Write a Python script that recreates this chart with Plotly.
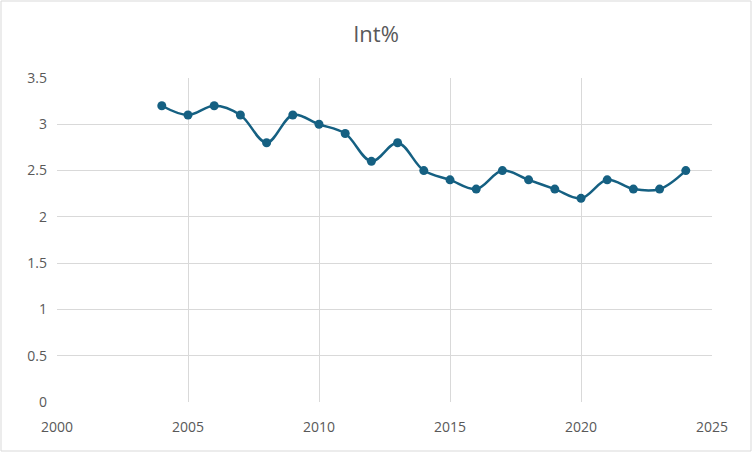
import plotly.graph_objects as go

years = [2004, 2005, 2006, 2007, 2008, 2009, 2010, 2011, 2012, 2013, 2014,
         2015, 2016, 2017, 2018, 2019, 2020, 2021, 2022, 2023, 2024]
int_pct = [3.2, 3.1, 3.2, 3.1, 2.8, 3.1, 3.0, 2.9, 2.6, 2.8, 2.5,
           2.4, 2.3, 2.5, 2.4, 2.3, 2.2, 2.4, 2.3, 2.3, 2.5]

line_col = '#156082'
grid_col = '#d9d9d9'
txt_col = '#595959'

fig = go.Figure()
fig.add_trace(go.Scatter(x=years, y=int_pct, mode='lines+markers',
                         line=dict(color=line_col, width=2.5, shape='spline', smoothing=1.0),
                         marker=dict(color=line_col, size=9),
                         name='Int%'))

W, H = 752, 452
ml, mr, mt, mb = 57, 40, 78, 50
pw, ph = W - ml - mr, H - mt - mb

fig.update_layout(
    width=W, height=H,
    margin=dict(l=ml, r=mr, t=mt, b=mb),
    paper_bgcolor='white', plot_bgcolor='white',
    showlegend=False,
    font=dict(family='Open Sans, Liberation Sans, sans-serif', size=14, color=txt_col),
    title=dict(text='Int%', x=0.5, xanchor='center', y=0.925, yanchor='middle',
               font=dict(size=22, color=txt_col)),
    xaxis=dict(range=[2000, 2025], dtick=5, tick0=2000, showgrid=True, gridcolor=grid_col,
               gridwidth=1, zeroline=False, showline=False, ticks='', ticklabelstandoff=15),
    yaxis=dict(range=[0, 3.5], dtick=0.5, showgrid=True, gridcolor=grid_col, gridwidth=1,
               zeroline=False, showline=False, ticks='', ticklabelstandoff=9),
)

# outer chart border
fig.add_shape(type='rect', xref='paper', yref='paper',
              x0=-(ml - 1) / pw, x1=1 + (mr - 1) / pw,
              y0=-(mb - 1) / ph, y1=1 + (mt - 1) / ph,
              line=dict(color=grid_col, width=1), layer='below')

fig.write_html("out.html", config={'displayModeBar': False},
               post_script="document.body.style.margin='0';")
